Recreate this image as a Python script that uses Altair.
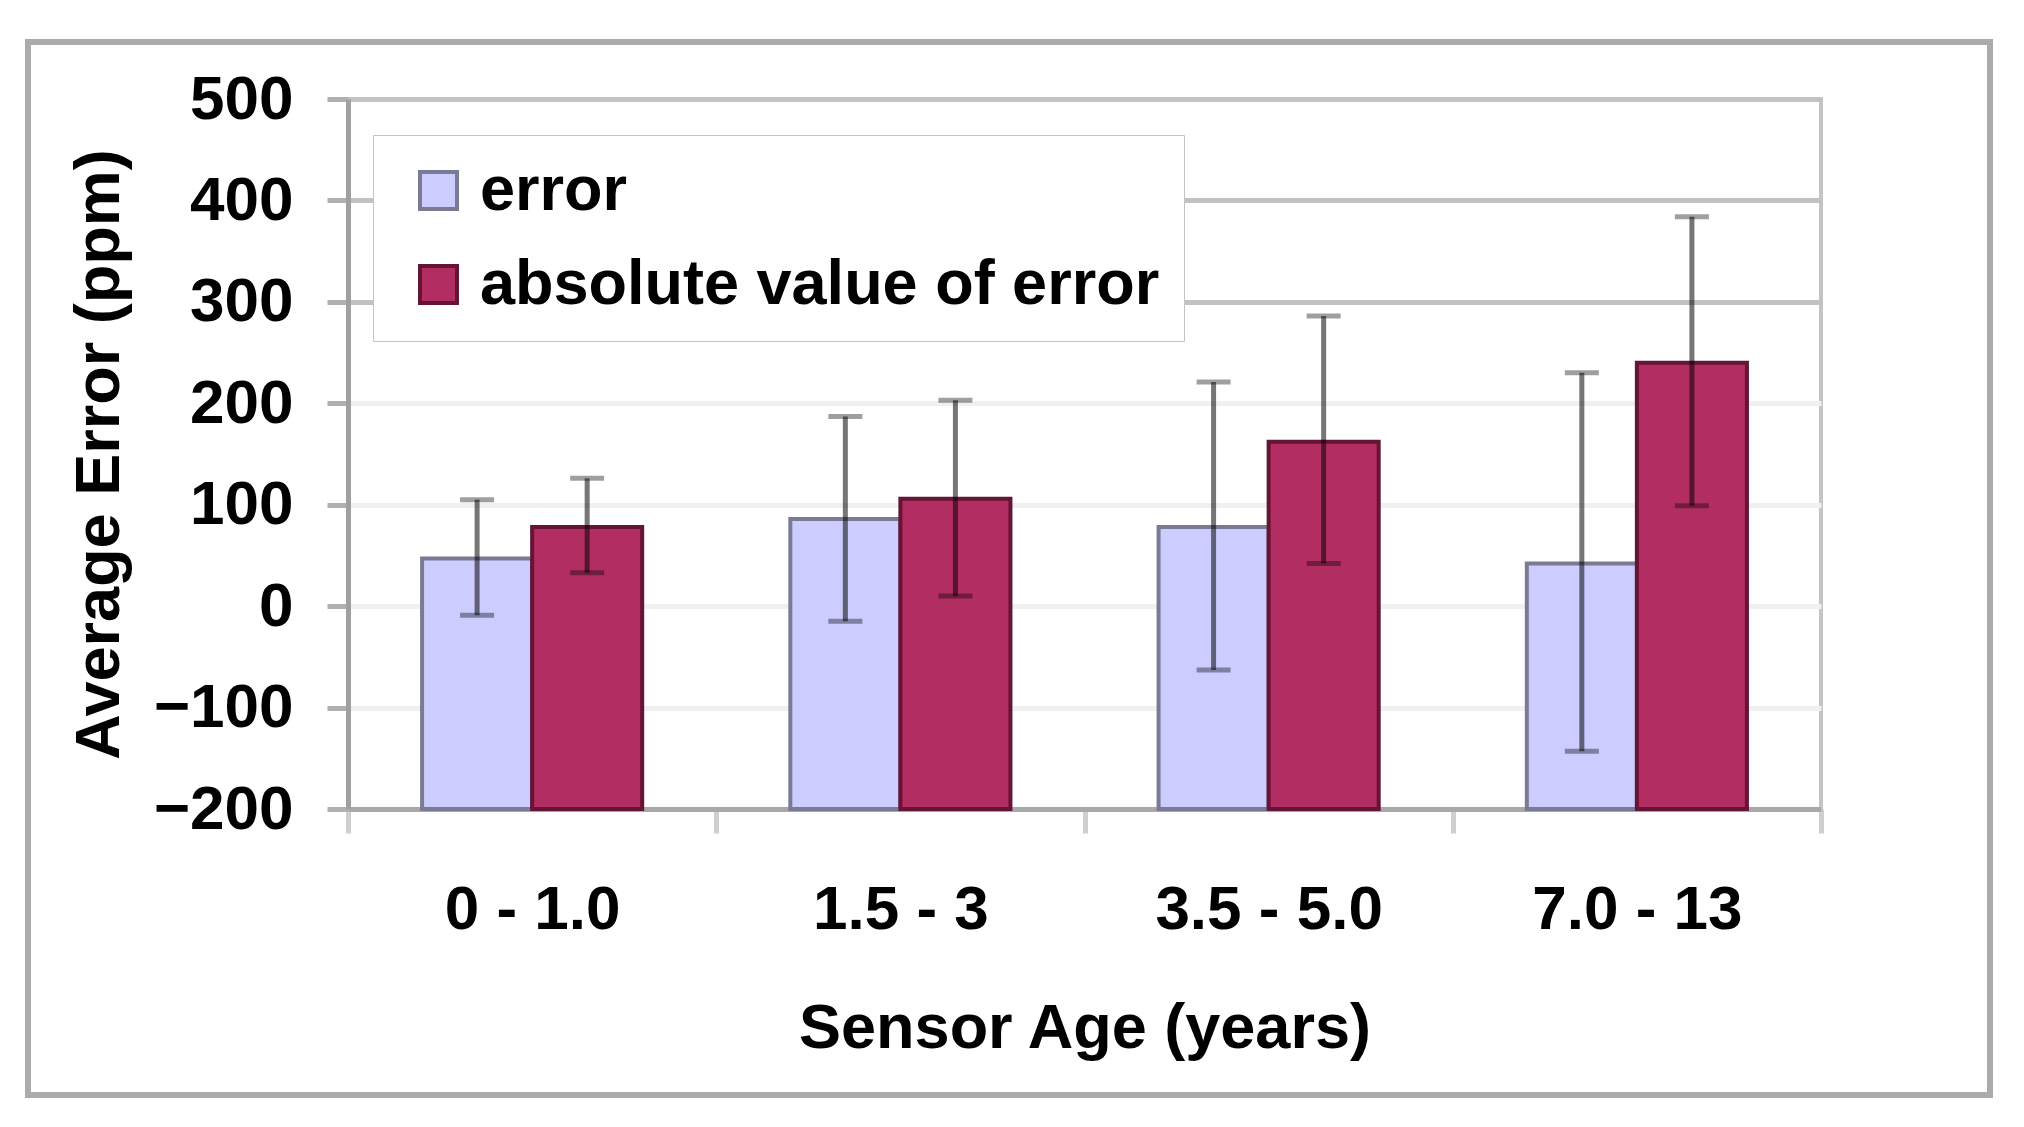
import altair as alt
import pandas as pd

age_groups = ["0 - 1.0", "1.5 - 3", "3.5 - 5.0", "7.0 - 13"]
series_names = ["error", "absolute value of error"]
error_mean = [47, 86, 78, 42]
error_low = [-9, -15, -63, -143]
error_high = [105, 187, 221, 230]
abs_mean = [78, 106, 162, 240]
abs_low = [33, 10, 42, 99]
abs_high = [126, 203, 286, 384]
y_ticks = [-200, -100, 0, 100, 200, 300, 400, 500]

fill_colors = ["#ccccff", "#b22e62"]
stroke_colors = ["#7a7a94", "#661436"]

rows = []
for i, g in enumerate(age_groups):
    rows.append({"age": g, "series": series_names[0], "mean": error_mean[i],
                 "low": error_low[i], "high": error_high[i]})
    rows.append({"age": g, "series": series_names[1], "mean": abs_mean[i],
                 "low": abs_low[i], "high": abs_high[i]})
df = pd.DataFrame(rows)

FONT = "Liberation Sans"

x_enc = alt.X(
    "age:N", sort=age_groups,
    scale=alt.Scale(paddingInner=0, paddingOuter=0),
    axis=alt.Axis(
        title="Sensor Age (years)", labelAngle=0, tickBand="extent",
        tickSize=24, tickColor="#cfcfcf", tickWidth=5,
        domainColor="#a8a8a8", domainWidth=5,
        labelPadding=46, titlePadding=57, grid=False, labelLimit=1000,
        labelFont=FONT, labelFontSize=62, labelFontWeight="bold", labelColor="#000000",
        titleFont=FONT, titleFontSize=63, titleFontWeight="bold", titleColor="#000000",
    ),
)
xo_enc = alt.XOffset("series:N", sort=series_names,
                     scale=alt.Scale(paddingInner=0, paddingOuter=0.673))
y_scale = alt.Scale(domain=[-200, 500], nice=False, zero=False)
y_axis = alt.Axis(
    values=y_ticks, title="Average Error (ppm)",
    tickSize=21, tickColor="#b0b0b0", tickWidth=5,
    domainColor="#a0a0a0", domainWidth=5,
    gridColor={"condition": {"test": "datum.value >= 300", "value": "#c2c2c2"}, "value": "#f0f0f0"},
    gridWidth=5,
    labelPadding=34, titlePadding=22,
    labelFont=FONT, labelFontSize=62, labelFontWeight="bold", labelColor="#000000",
    titleFont=FONT, titleFontSize=63, titleFontWeight="bold", titleColor="#000000",
)

base = alt.Chart(df)

frame = alt.Chart(alt.Data(values=[{"k": 1}])).mark_rect(
    fillOpacity=0, stroke="#ababab", strokeWidth=6
).encode(
    x=alt.value(-320), x2=alt.value(1642), y=alt.value(-57), y2=alt.value(996)
)

bars = base.mark_bar(strokeWidth=4).encode(
    x=x_enc,
    xOffset=xo_enc,
    y=alt.Y("mean:Q", scale=y_scale, axis=y_axis),
    y2=alt.datum(-200),
    color=alt.Color("series:N", sort=series_names,
                    scale=alt.Scale(domain=series_names, range=fill_colors),
                    legend=alt.Legend(title=None)),
    stroke=alt.Stroke("series:N", sort=series_names,
                      scale=alt.Scale(domain=series_names, range=stroke_colors),
                      legend=alt.Legend(title=None)),
)

whiskers = base.mark_rule(color="#767676", strokeWidth=5, blend="multiply").encode(
    x=x_enc, xOffset=xo_enc,
    y=alt.Y("low:Q", scale=y_scale),
    y2="high:Q",
)
caps_low = base.mark_tick(color="#767676", orient="horizontal", size=34, thickness=5,
                          blend="multiply").encode(
    x=x_enc, xOffset=xo_enc, y=alt.Y("low:Q", scale=y_scale)
)
caps_high = base.mark_tick(color="#767676", orient="horizontal", size=34, thickness=5,
                           blend="multiply").encode(
    x=x_enc, xOffset=xo_enc, y=alt.Y("high:Q", scale=y_scale)
)

chart = alt.layer(frame, bars, whiskers, caps_low, caps_high).properties(
    width=1473, height=710,
    autosize=alt.AutoSizeParams(type="none"),
    padding={"left": 340, "top": 91, "right": 180, "bottom": 295},
    background="#ffffff",
).configure_view(
    stroke="#c4c4c4", strokeWidth=4
).configure_legend(
    orient="none", legendX=25, legendY=36,
    padding=24, fillColor="#ffffff", strokeColor="#c4c4c4",
    labelFont=FONT, labelFontSize=63, labelFontWeight="bold", labelColor="#000000",
    labelOffset=10, labelLimit=2000,
    symbolType="square", symbolSize=1369, symbolStrokeWidth=4, symbolOffset=10,
    rowPadding=30,
)

chart.save("out.html", embed_options={"renderer": "svg", "actions": False})
